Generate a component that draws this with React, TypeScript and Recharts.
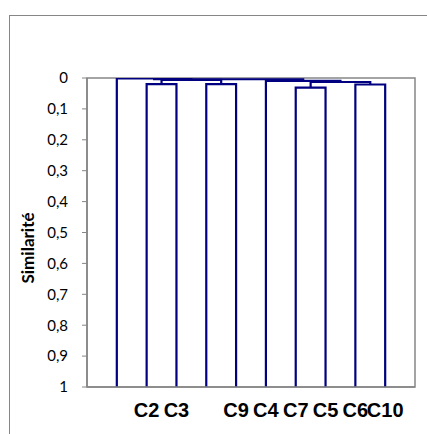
import React from 'react';
import { LineChart, Line, XAxis, YAxis, ReferenceArea } from 'recharts';

// Leaves (positions 1..10 on the x axis) and their labels
const leafPositions = [1, 2, 3, 4, 5, 6, 7, 8, 9, 10];
const leafLabels = ['', 'C2', 'C3', '', 'C9', 'C4', 'C7', 'C5', 'C6', 'C10'];
const leafLevel = 1;

// Merges: node ids 0..9 are leaves, merge k creates node 10 + k
const mergeChildA = [1, 3, 10, 0, 6, 8, 14, 5, 13];
const mergeChildB = [2, 4, 11, 12, 7, 9, 15, 16, 17];
const mergeLevels = [0.02, 0.02, 0.006, 0.0015, 0.031, 0.021, 0.013, 0.009, 0.004];

const yTicks = [0, 0.1, 0.2, 0.3, 0.4, 0.5, 0.6, 0.7, 0.8, 0.9, 1];

const nodeX: number[] = [...leafPositions];
const nodeY: number[] = leafPositions.map(() => leafLevel);
mergeChildA.forEach((a, k) => {
  const b = mergeChildB[k];
  nodeX.push((nodeX[a] + nodeX[b]) / 2);
  nodeY.push(mergeLevels[k]);
});

const links = mergeChildA.map((a, k) => {
  const b = mergeChildB[k];
  const h = mergeLevels[k];
  return [
    { x: nodeX[a], y: nodeY[a] },
    { x: nodeX[a], y: h },
    { x: nodeX[b], y: h },
    { x: nodeX[b], y: nodeY[b] },
  ];
});

const AXIS = '#868686';
const NAVY = '#000080';

const LeafTick = (props: any) => {
  const { x, y, payload } = props;
  const i = leafPositions.indexOf(payload.value);
  return (
    <text
      x={x}
      y={y + 30}
      textAnchor="middle"
      fontFamily="'Liberation Sans', Arial, sans-serif"
      fontWeight="bold"
      fontSize={20}
      fill="#000"
    >
      {leafLabels[i]}
    </text>
  );
};

const YLabel = () => (
  <text
    transform="translate(34,248) rotate(-90)"
    textAnchor="middle"
    fontFamily="Lato, 'Open Sans', sans-serif"
    fontWeight="bold"
    fontSize={17}
    fill="#000"
  >
    Similarité
  </text>
);

export default function App() {
  return (
    <div style={{ position: 'absolute', left: 0, top: 0, width: 427, height: 434, background: '#fff', overflow: 'hidden' }}>
      <div
        style={{
          position: 'absolute',
          left: 9,
          top: 15,
          width: 430,
          height: 430,
          borderLeft: `1px solid ${AXIS}`,
          borderTop: `1px solid ${AXIS}`,
        }}
      />
      <div style={{ position: 'absolute', left: 0, top: 0 }}>
        <LineChart width={427} height={434} margin={{ top: 78, right: 12, bottom: 17, left: 0 }}>
          <XAxis
            type="number"
            dataKey="x"
            domain={[0, 11]}
            ticks={leafPositions}
            interval={0}
            tick={<LeafTick />}
            tickLine={false}
            tickSize={0}
            tickMargin={0}
            axisLine={{ stroke: AXIS, strokeWidth: 1.5 }}
            height={30}
            allowDataOverflow
          />
          <YAxis
            type="number"
            dataKey="y"
            domain={[0, 1]}
            reversed
            ticks={yTicks}
            interval={0}
            tickFormatter={(v: number) => String(v).replace('.', ',')}
            tick={{ fontSize: 15, fill: '#000', fontFamily: "Lato, 'Open Sans', sans-serif" }}
            tickSize={5}
            tickMargin={14}
            tickLine={{ stroke: AXIS }}
            axisLine={{ stroke: AXIS, strokeWidth: 1.5 }}
            width={87}
            label={<YLabel />}
            allowDataOverflow
          />
          <ReferenceArea x1={0} x2={11} y1={0} y2={1} fill="none" stroke={AXIS} strokeWidth={1.5} fillOpacity={0} />
          {links.map((d, k) => (
            <Line
              key={k}
              data={d}
              dataKey="y"
              type="linear"
              stroke={NAVY}
              strokeWidth={2.2}
              dot={false}
              activeDot={false}
              isAnimationActive={false}
            />
          ))}
        </LineChart>
      </div>
    </div>
  );
}
